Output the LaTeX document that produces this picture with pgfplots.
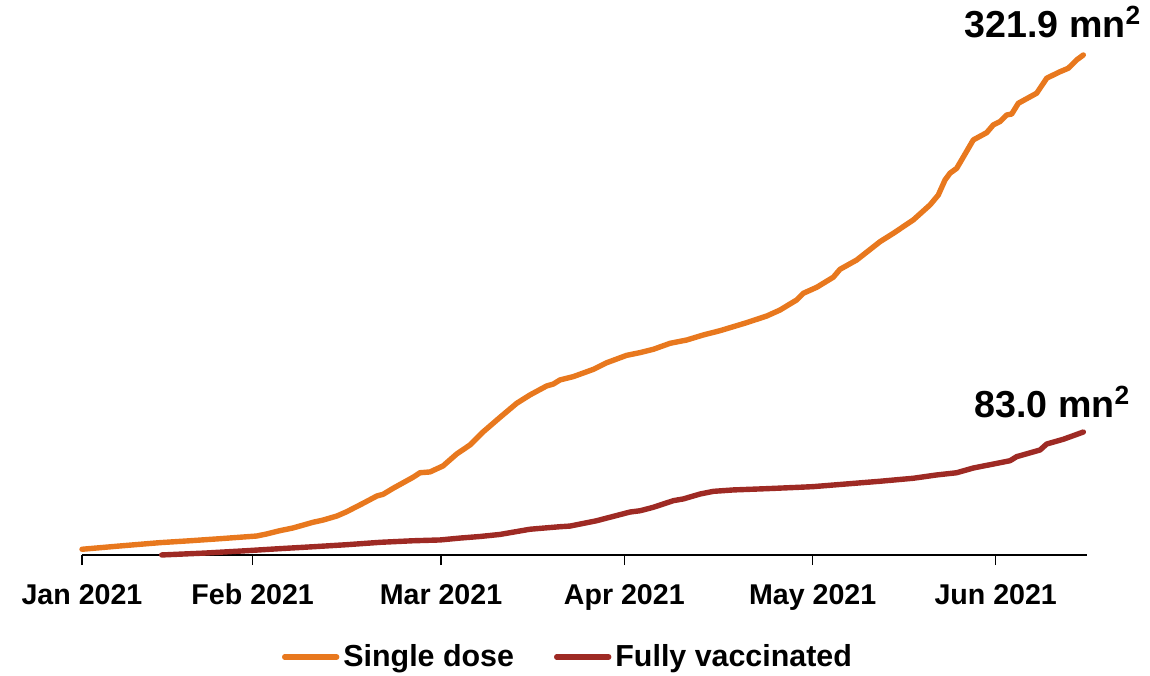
\documentclass[border=0pt]{standalone}
\usepackage{pgfplots}
\pgfplotsset{compat=1.18}
\usepackage{fontspec}
\setmainfont{Liberation Sans}
\definecolor{single}{RGB}{232,120,30}
\definecolor{fully}{RGB}{158,42,36}
\begin{document}
\begin{tikzpicture}
\path[use as bounding box] (-41pt,-60pt) rectangle (534pt,277.5pt);
\begin{axis}[
 at={(0,0)}, anchor=south west,
 scale only axis, width=502.35pt, height=257.5pt,
 xmin=82, xmax=1086.7, ymin=5.07, ymax=331.4,
 axis x line*=bottom, axis y line=none,
 x axis line style={line width=0.7pt,-},
 xtick={82,252.7,441,624.3,812.7,995.7},
 xticklabels={Jan 2021,Feb 2021,Mar 2021,Apr 2021,May 2021,Jun 2021},
 xtick align=outside,
 major tick length=5pt,
 tick style={line width=0.6pt, black},
 xticklabel style={font=\fontsize{14.3}{16}\selectfont\bfseries, yshift=-6pt},
 clip=false,
 legend columns=2,
 legend style={at={(0.4847,-0.198)}, anchor=center, draw=none, fill=none,
   font=\fontsize{15.2}{17}\selectfont\bfseries,
   /tikz/every even column/.append style={column sep=18pt},
   inner sep=0pt},
 legend image code/.code={\draw[#1,line cap=round] (0pt,0pt) -- (26pt,0pt);},
 every axis plot/.append style={line width=2.7pt, line join=round, line cap=round},
]
\addplot[single] coordinates {
(82,8.7)(120,10.8)(160,12.9)(190,14.1)(220,15.4)(256.7,17.1)(266.7,18.4)(280,20.5)
(293,22.2)(313,25.8)(323,27.2)(337,29.8)(346.7,32.5)(363,37.8)(377,42.5)(383,43.5)
(393,47.3)(413,54.3)(420,57.2)(430,57.7)(443,61.5)(456.7,69.1)(470,74.8)(483,83.0)
(500,92.3)(516.7,101.2)(530,106.5)(546.7,112.2)(553.3,113.4)(560,116.0)(573.3,118.1)
(593.3,122.7)(606.7,126.9)(626.7,131.6)(640,133.3)(653.3,135.4)(670,139.2)(686.7,141.3)
(703.3,144.5)(720,147.2)(746.7,152.3)(766.7,156.5)(780,160.3)(796.7,166.7)(803.3,170.9)
(816.7,174.7)(833.3,181.1)(840,186.1)(856.7,192.0)(880,203.6)(893.3,208.9)(913.3,217.4)
(930,226.9)(938.3,233.2)(945,242.7)(950,247.0)(956.7,250.1)(973.3,268.1)(986.7,272.7)
(993.3,277.6)(1000,279.7)(1006.7,283.9)(1011.7,284.5)(1018.3,291.3)(1036.7,297.7)
(1046.7,307.2)(1060,311.3)(1068.3,313.5)(1076.7,318.8)(1083.3,321.9)
};
\addlegendentry{Single dose}
\addplot[fully] coordinates {
(161.7,5.1)(205,6.3)(246.7,7.8)(280,9.1)(313,10.3)(346.7,11.6)(380,13.1)(413,14.1)
(440,14.6)(460,15.8)(480,16.8)(500,18.1)(530,21.4)(560,23.0)(570,23.4)(596.7,26.8)
(610,29.0)(630,32.3)(640,33.1)(653.3,35.3)(673.3,39.5)(683.3,40.6)(700,43.7)(713.3,45.4)
(733.3,46.3)(766.7,47.1)(800,48.0)(813.3,48.4)(846.7,50.1)(880,51.8)(913.3,53.7)
(936.7,55.8)(956.7,57.2)(973.3,60.2)(993.3,62.7)(1010,64.8)(1016.7,67.4)(1040,71.6)
(1046.7,75.4)(1063.3,78.4)(1083.3,83.0)
};
\addlegendentry{Fully vaccinated}
\node[anchor=base, font=\fontsize{18.8}{20}\selectfont\bfseries] at (axis cs:1053,333.1) {321.9 mn\textsuperscript{2}};
\node[anchor=base, font=\fontsize{18.8}{20}\selectfont\bfseries] at (axis cs:1052.5,92.5) {83.0 mn\textsuperscript{2}};
\end{axis}
\end{tikzpicture}
\end{document}
